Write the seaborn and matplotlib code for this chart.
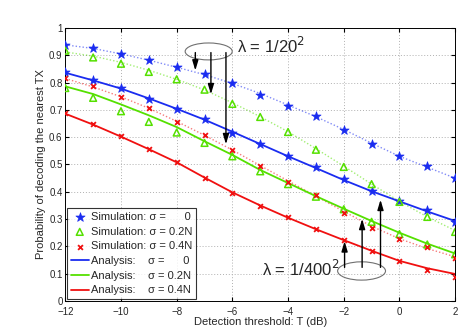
import numpy as np
import pandas as pd
import seaborn as sns
import matplotlib
matplotlib.use("Agg")
import matplotlib.pyplot as plt
from matplotlib.patches import Ellipse

# Data
T = [-12, -11, -10, -9, -8, -7, -6, -5, -4, -3, -2, -1, 0, 1, 2]

# simulation markers, lambda = 1/20^2 (upper group, dotted curves)
sim_s0_20 = [0.936, 0.927, 0.906, 0.881, 0.857, 0.830, 0.800, 0.756, 0.714, 0.677, 0.628, 0.574, 0.530, 0.495, 0.451]
sim_s2_20 = [0.917, 0.892, 0.869, 0.839, 0.812, 0.774, 0.722, 0.674, 0.619, 0.554, 0.491, 0.428, 0.363, 0.308, 0.253]
sim_s4_20 = [0.817, 0.786, 0.747, 0.707, 0.656, 0.607, 0.552, 0.494, 0.436, 0.388, 0.324, 0.266, 0.226, 0.196, 0.156]
# simulation markers, lambda = 1/400^2 (lower group, solid curves)
sim_s0_400 = [0.839, 0.808, 0.780, 0.739, 0.705, 0.665, 0.617, 0.574, 0.530, 0.489, 0.445, 0.404, 0.367, 0.333, 0.290]
sim_s2_400 = [0.780, 0.744, 0.695, 0.656, 0.617, 0.579, 0.530, 0.475, 0.428, 0.382, 0.336, 0.290, 0.245, 0.207, 0.171]
sim_s4_400 = [0.689, 0.647, 0.604, 0.555, 0.510, 0.449, 0.394, 0.349, 0.306, 0.263, 0.223, 0.184, 0.146, 0.113, 0.089]

# analysis curves
ana_s0_20 = [0.938, 0.925, 0.905, 0.882, 0.856, 0.829, 0.797, 0.760, 0.718, 0.675, 0.628, 0.578, 0.530, 0.490, 0.450]
ana_s2_20 = [0.912, 0.897, 0.874, 0.845, 0.812, 0.773, 0.726, 0.675, 0.620, 0.558, 0.494, 0.428, 0.365, 0.308, 0.258]
ana_s4_20 = [0.815, 0.784, 0.748, 0.706, 0.658, 0.607, 0.553, 0.496, 0.440, 0.384, 0.328, 0.274, 0.228, 0.192, 0.162]
ana_s0_400 = [0.836, 0.808, 0.778, 0.742, 0.704, 0.664, 0.620, 0.575, 0.530, 0.487, 0.443, 0.402, 0.365, 0.328, 0.293]
ana_s2_400 = [0.786, 0.758, 0.720, 0.680, 0.637, 0.585, 0.535, 0.480, 0.432, 0.384, 0.338, 0.293, 0.250, 0.210, 0.174]
ana_s4_400 = [0.686, 0.646, 0.602, 0.556, 0.508, 0.452, 0.398, 0.350, 0.305, 0.263, 0.223, 0.184, 0.147, 0.120, 0.099]

sigma_labels = ["     0", "0.2N", "0.4N"]

blue = "#1a2cf0"
green = "#55e000"
red = "#f01010"
colors = [blue, green, red]

sns.set_style("whitegrid")
plt.rcParams["font.family"] = ["Liberation Sans", "DejaVu Sans"]

fig = plt.figure(figsize=(4.63, 3.27), dpi=100)
ax = fig.add_axes([0.141, 0.0795, 0.842, 0.835])

# dotted analysis curves (lambda = 1/20^2)
for vals, c in zip([ana_s0_20, ana_s2_20, ana_s4_20], colors):
    sns.lineplot(x=T, y=vals, ax=ax, color=c, linestyle=(0, (1, 1.5)), linewidth=1.0, alpha=0.55)

# solid analysis curves (lambda = 1/400^2)
ana_handles = []
for vals, c, s in zip([ana_s0_400, ana_s2_400, ana_s4_400], colors, sigma_labels):
    sns.lineplot(x=T, y=vals, ax=ax, color=c, linewidth=1.3)
    ana_handles.append(ax.lines[-1])

# simulation markers
marker_kw = [
    dict(marker="*", s=48, color=blue, edgecolor=blue, linewidth=0.5),
    dict(marker="^", s=24, facecolor="none", edgecolor=green, linewidth=1.1),
    dict(marker="x", s=12, color=red, linewidth=1.3),
]
sim_handles = []
for sims, kw in zip([(sim_s0_20, sim_s0_400), (sim_s2_20, sim_s2_400), (sim_s4_20, sim_s4_400)], marker_kw):
    for vals in sims:
        sns.scatterplot(x=T, y=vals, ax=ax, zorder=5, **kw)
    sim_handles.append(ax.collections[-1])

ax.set_xlim(-12, 2)
ax.set_ylim(0, 1)
ax.set_xticks(range(-12, 3, 2))
ax.set_xticklabels(["\u221212", "\u221210", "\u22128", "\u22126", "\u22124", "\u22122", "0", "2"])
ax.set_yticks(np.arange(0, 1.01, 0.1))
ax.set_yticklabels(["0", "0.1", "0.2", "0.3", "0.4", "0.5", "0.6", "0.7", "0.8", "0.9", "1"])
ax.tick_params(labelsize=7, direction="in", length=3, top=True, right=True, pad=2,
               bottom=True, left=True, color="black")
ax.tick_params(axis="x", pad=4)
ax.grid(True, color="#b0b0b0", linestyle=(0, (1, 2)), linewidth=0.7)
for sp in ax.spines.values():
    sp.set_color("black")
    sp.set_linewidth(0.7)
ax.set_xlabel("Detection threshold: T (dB)", fontsize=8, labelpad=0)
ax.set_ylabel("Probability of decoding the nearest TX", fontsize=8, labelpad=2)

# annotations: lambda = 1/20^2
ax.add_patch(Ellipse((-6.85, 0.914), 1.69, 0.062, fill=False, edgecolor="#707070", linewidth=0.8, zorder=6))
for x0, y1 in [(-7.33, 0.834), (-6.77, 0.747), (-6.23, 0.564)]:
    ax.annotate("", xy=(x0, y1), xytext=(x0, 0.92),
                arrowprops=dict(arrowstyle="-|>,head_width=0.18,head_length=0.6", color="black", lw=1.0),
                zorder=7)
ax.text(-5.82, 0.935, "\u03bb = 1/20$^2$", fontsize=12, va="center", ha="left")

# annotations: lambda = 1/400^2
ax.add_patch(Ellipse((-1.36, 0.110), 1.72, 0.067, fill=False, edgecolor="#707070", linewidth=0.8, zorder=6))
for x0, y1 in [(-1.97, 0.229), (-1.34, 0.311), (-0.68, 0.381)]:
    ax.annotate("", xy=(x0, y1), xytext=(x0, 0.113),
                arrowprops=dict(arrowstyle="-|>,head_width=0.18,head_length=0.6", color="black", lw=1.0),
                zorder=7)
ax.text(-4.92, 0.118, "\u03bb = 1/400$^2$", fontsize=12, va="center", ha="left")

labels = ["Simulation: \u03c3 = " + s for s in sigma_labels] + \
         ["Analysis:    \u03c3 = " + s for s in sigma_labels]
leg = ax.legend(sim_handles + ana_handles, labels, loc="lower left", bbox_to_anchor=(0, 0),
                fontsize=8, frameon=True, fancybox=False, borderaxespad=0.15,
                handlelength=1.6, handletextpad=0.2, labelspacing=0.42, borderpad=0.35)
leg.get_frame().set_edgecolor("black")
leg.get_frame().set_linewidth(0.8)
leg.set_zorder(10)

fig.savefig("out.png", dpi=100)
